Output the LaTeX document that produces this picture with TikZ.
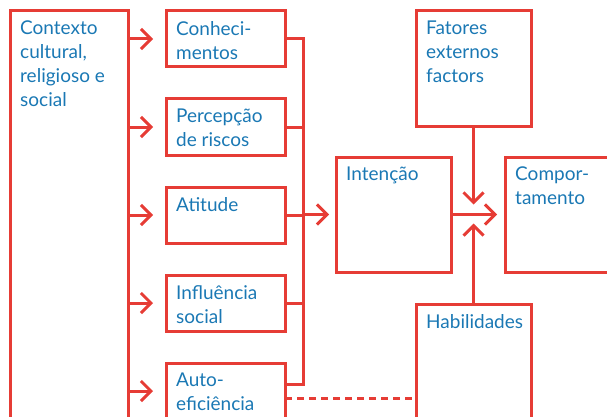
\documentclass[tikz,border=0pt]{standalone}
\usepackage{fontspec}
\setmainfont{Lato}
\usetikzlibrary{arrows.meta}
\definecolor{bred}{HTML}{E63C35}
\definecolor{tblue}{HTML}{1A78B4}
\tikzset{
  box/.style={draw=bred, line width=3pt, rectangle, inner sep=0pt, outer sep=0pt, anchor=north west},
  lbl/.style={anchor=north west, inner sep=0pt, align=left, text=tblue,
    font=\fontsize{19}{24}\selectfont, xshift=10pt, yshift=-10pt},
  conn/.style={draw=bred, line width=3pt},
  arr/.style={conn, -{Straight Barb[length=10pt,width=20pt]}},
}
\begin{document}
\begin{tikzpicture}[x=1pt,y=-1pt]
\clip (0,0) rectangle (607,417);
\useasboundingbox (0,0) rectangle (607,417);
\node[box, minimum width=118pt, minimum height=430pt, label={[lbl]north west:Contexto\\cultural,\\religioso e\\social}] (ctx) at (10,11) {};
\node[box, minimum width=119pt, minimum height=56pt, label={[lbl]north west:Conheci-\\mentos}] (con) at (166,11) {};
\node[box, minimum width=119pt, minimum height=56pt, label={[lbl]north west:Percepção\\de riscos}] (per) at (166,99) {};
\node[box, minimum width=119pt, minimum height=56pt, label={[lbl]north west:Atitude}] (ati) at (166,187) {};
\node[box, minimum width=119pt, minimum height=56pt, label={[lbl]north west:Influência\\social}] (inf) at (166,275) {};
\node[box, minimum width=119pt, minimum height=56pt, label={[lbl]north west:Auto-\\eficiência}] (aut) at (166,363) {};
\node[box, minimum width=115pt, minimum height=115pt, label={[lbl]north west:Intenção}] (int) at (336,157) {};
\node[box, minimum width=115pt, minimum height=115pt, label={[lbl]north west:Fatores\\externos\\factors}] (fat) at (416,11) {};
\node[box, minimum width=130pt, minimum height=115pt, label={[lbl]north west:Compor-\\tamento}] (com) at (505,157) {};
\node[box, minimum width=115pt, minimum height=140pt, label={[lbl]north west:Habilidades}] (hab) at (416,304) {};
% arrows from context
\foreach \b in {con,per,ati,inf,aut}
  \draw[arr, shorten >=13pt] (ctx.east |- \b.west) -- (\b.west);
% bus
\coordinate (bustop) at (303,39);
\coordinate (autout) at ([yshift=7pt]aut.east);
\coordinate (busbot) at (bustop |- autout);
\draw[conn] (con.east) -- (bustop) -- (busbot) -- (autout);
\foreach \b in {per,ati,inf}
  \draw[conn] (\b.east) -- (\b.east -| bustop);
\draw[arr, shorten >=7pt] (bustop |- int.west) -- (int.west);
\draw[conn, dash pattern=on 7pt off 5pt] ([yshift=-7pt]aut.east) -- ([yshift=-7pt]aut.east -| hab.west);
% to behaviour
\draw[arr, shorten >=8pt] (int.east) -- (com.west);
\coordinate (j) at (fat.south |- int.east);
\draw[arr, shorten >=10pt] (fat.south) -- (j);
\draw[arr, shorten >=9pt] (hab.north) -- (j);
\end{tikzpicture}
\end{document}
